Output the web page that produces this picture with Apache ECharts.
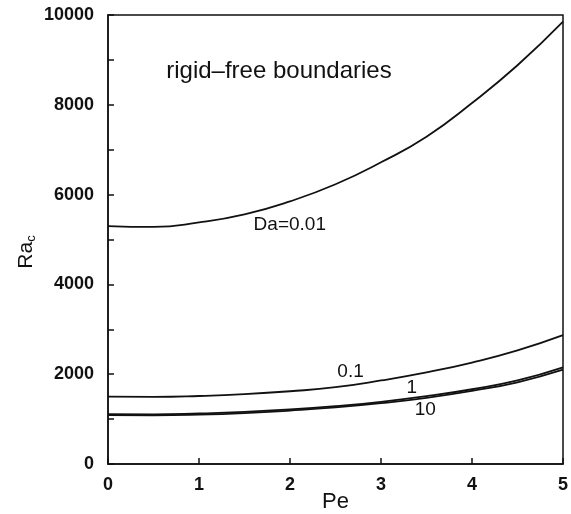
<!DOCTYPE html>
<html>
<head>
<meta charset="utf-8">
<script src="https://cdn.jsdelivr.net/npm/echarts@6/dist/echarts.min.js"></script>
<style>html,body{margin:0;padding:0;background:#fff}</style>
</head>
<body>
<div id="main" style="width:571px;height:514px"></div>
<script>
// Pe sample points
var pe = [0, 0.5, 1, 1.5, 2, 2.5, 3, 3.5, 4, 4.5, 5];
// critical Rayleigh number for each Darcy number
var raDa001 = [5300, 5280, 5380, 5560, 5850, 6230, 6720, 7290, 8040, 8880, 9850];
var raDa01 = [1500, 1495, 1515, 1555, 1620, 1710, 1860, 2040, 2260, 2530, 2870];
var raDa1 = [1110, 1105, 1125, 1160, 1215, 1290, 1385, 1510, 1665, 1860, 2150];
var raDa10 = [1090, 1085, 1100, 1135, 1190, 1260, 1355, 1475, 1630, 1820, 2100];

var yTicks = [0, 2000, 4000, 6000, 8000, 10000];

function pairs(ys) {
  return pe.map(function (x, i) { return [x, ys[i]]; });
}

var font = 'Liberation Sans, Arial, sans-serif';
var ink = '#111';
var lineStyle = { color: ink, width: 1.8 };

function curve(name, ys) {
  return {
    name: name,
    type: 'line',
    data: pairs(ys),
    smooth: true,
    symbol: 'none',
    lineStyle: lineStyle,
    silent: true
  };
}

var myChart = echarts.init(document.getElementById('main'));

var option = {
  backgroundColor: '#fff',
  animation: false,
  grid: {
    left: 108, top: 15, right: 8, bottom: 50,
    containLabel: false, outerBoundsMode: 'none',
    show: true, borderColor: ink, borderWidth: 1.5
  },
  xAxis: {
    type: 'value', min: 0, max: 5, interval: 1,
    name: 'Pe', nameLocation: 'middle', nameGap: 27, nameMoveOverlap: false,
    nameTextStyle: { fontFamily: font, fontSize: 22, color: ink },
    axisLine: { lineStyle: { color: ink, width: 1.5 } },
    axisTick: { inside: true, length: 6, lineStyle: { color: ink, width: 1.5 } },
    axisLabel: { fontFamily: font, fontSize: 18, fontWeight: 'bold', color: ink, margin: 12 },
    splitLine: { show: false }
  },
  yAxis: {
    type: 'value', min: 0, max: 10000, interval: 2000,
    axisLine: { lineStyle: { color: ink, width: 1.5 } },
    axisTick: { inside: true, length: 6, lineStyle: { color: ink, width: 1.5 } },
    minorTick: { show: true, splitNumber: 2, length: 6, lineStyle: { color: ink, width: 1.5 } },
    axisLabel: {
      fontFamily: font, fontSize: 18, fontWeight: 'bold', color: ink, margin: 14,
      formatter: function (v) { return yTicks.indexOf(v) >= 0 ? String(v) : ''; }
    },
    splitLine: { show: false }
  },
  series: [
    curve('Da=0.01', raDa001),
    curve('0.1', raDa01),
    curve('1', raDa1),
    curve('10', raDa10)
  ]
};
myChart.setOption(option);

// annotations anchored to data coordinates
var notes = [
  { text: 'rigid\u2013free boundaries', at: [0.64, 8750], size: 24 },
  { text: 'Da=0.01', at: [1.6, 5330], size: 19 },
  { text: '0.1', at: [2.52, 2060], size: 19 },
  { text: '1', at: [3.28, 1690], size: 19 },
  { text: '10', at: [3.37, 1200], size: 19 }
];
var graphics = notes.map(function (n) {
  var p = myChart.convertToPixel({ gridIndex: 0 }, n.at);
  return {
    type: 'text', x: p[0], y: p[1],
    style: { text: n.text, font: n.size + 'px ' + font, fill: ink, textVerticalAlign: 'middle' }
  };
});
// y axis title Ra_c
graphics.push({
  type: 'text', x: 26, y: 252, rotation: Math.PI / 2,
  style: {
    text: 'Ra{sub|c}', fontFamily: font, fontSize: 21, fill: ink,
    textAlign: 'center', textVerticalAlign: 'middle',
    rich: { sub: { fontFamily: font, fontSize: 13, fill: ink, padding: [10, 0, 0, 0] } }
  }
});
myChart.setOption({ graphic: graphics });
</script>
</body>
</html>
